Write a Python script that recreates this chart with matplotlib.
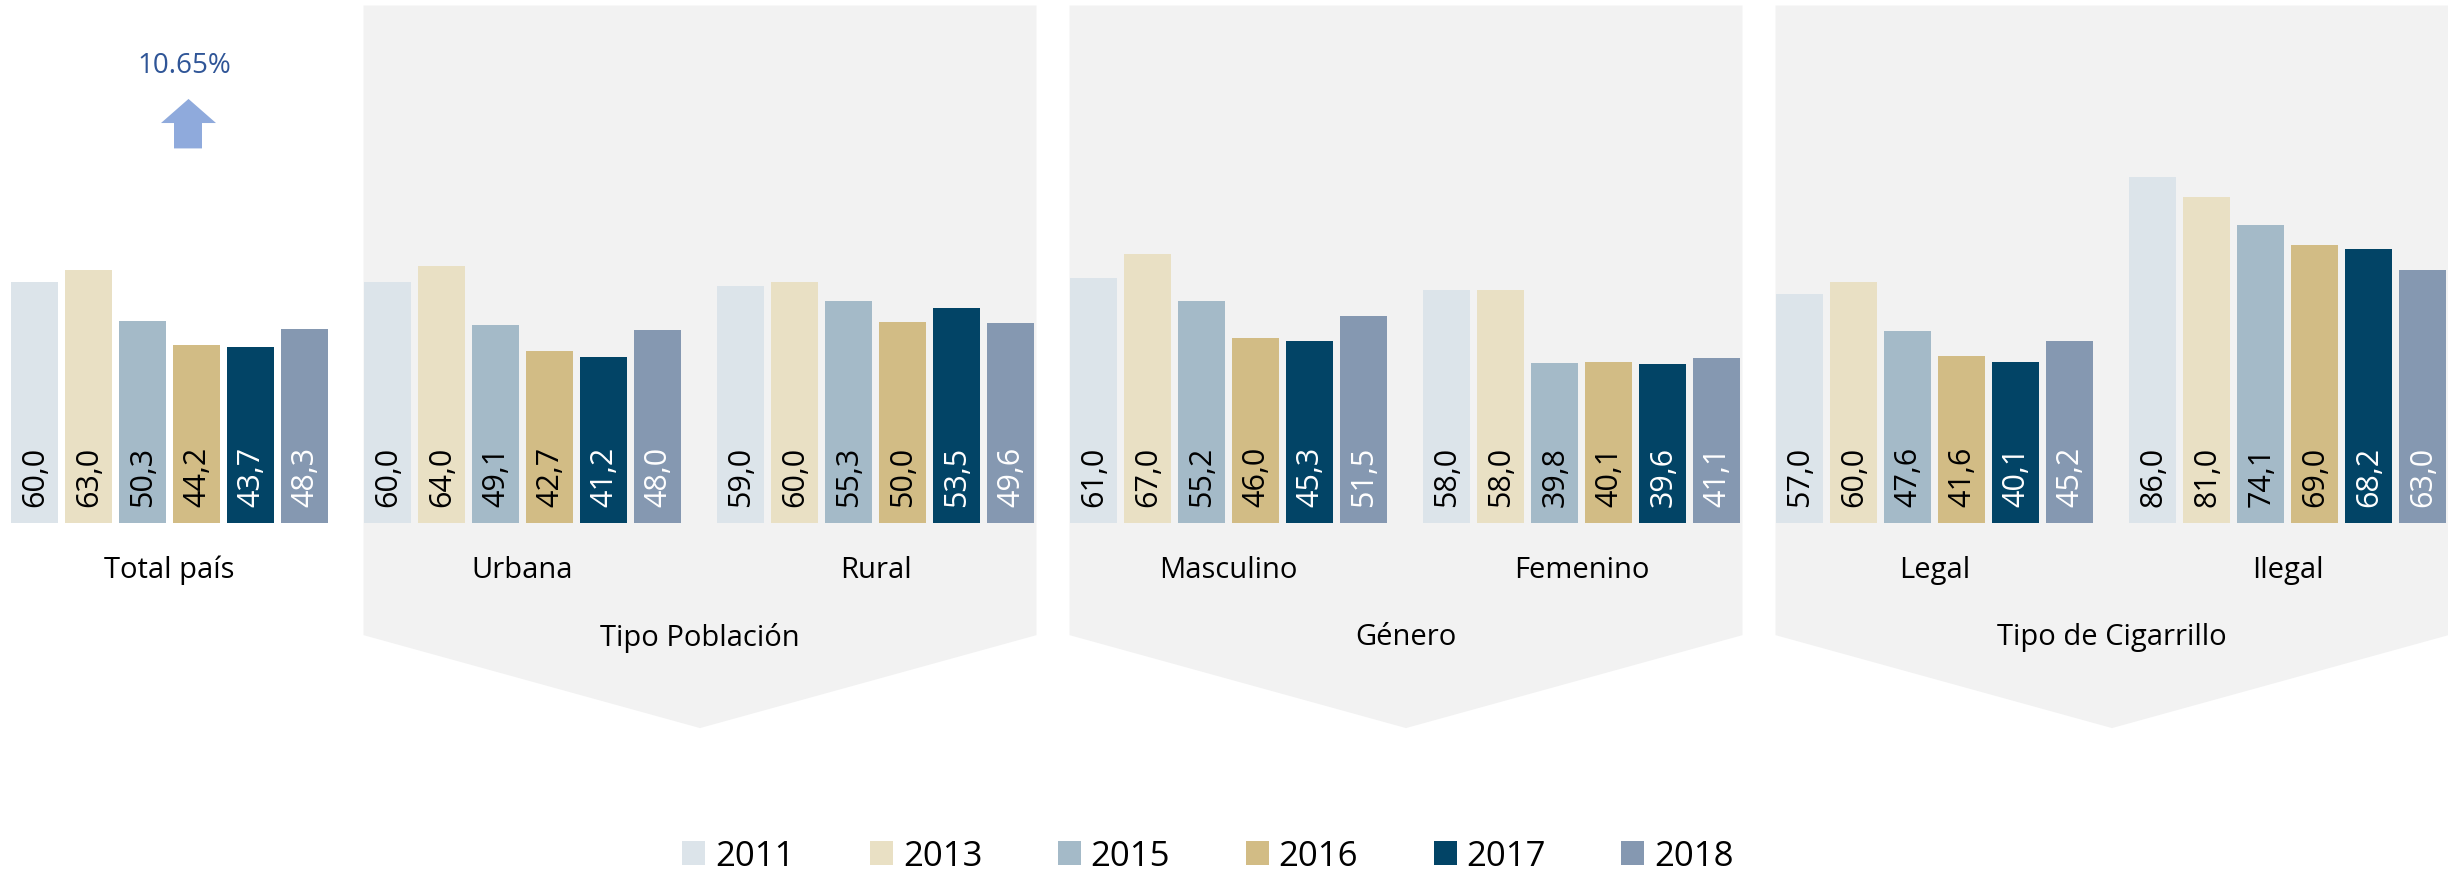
import matplotlib
matplotlib.use('Agg')
import matplotlib.pyplot as plt
from matplotlib.patches import Polygon, Patch
import numpy as np

# ---------------- data ----------------
years = ['2011', '2013', '2015', '2016', '2017', '2018']
categories = ['Total país', 'Urbana', 'Rural', 'Masculino', 'Femenino', 'Legal', 'Ilegal']
total_pais = [60.0, 63.0, 50.3, 44.2, 43.7, 48.3]
urbana = [60.0, 64.0, 49.1, 42.7, 41.2, 48.0]
rural = [59.0, 60.0, 55.3, 50.0, 53.5, 49.6]
masculino = [61.0, 67.0, 55.2, 46.0, 45.3, 51.5]
femenino = [58.0, 58.0, 39.8, 40.1, 39.6, 41.1]
legal = [57.0, 60.0, 47.6, 41.6, 40.1, 45.2]
ilegal = [86.0, 81.0, 74.1, 69.0, 68.2, 63.0]
group_titles = ['Tipo Población', 'Género', 'Tipo de Cigarrillo']
change_text = '10.65%'

# ---------------- style ----------------
colors = ['#DCE4EA', '#E9E0C4', '#A4BAC8', '#D2BC85', '#024466', '#8598B1']
label_colors = ['black', 'black', 'black', 'black', 'white', 'white']
panel_color = '#F2F2F2'

plt.rcParams['font.family'] = ['Open Sans', 'DejaVu Sans']

W, H = 2448, 876
BASE = 523.5      # baseline, pixels from top
PPU = 4.02        # pixels per unit
fig = plt.figure(figsize=(W / 100, 8.755), dpi=100)
ax = fig.add_axes([0, 0, 1, 1])
ax.set_xlim(0, W)
ax.set_ylim(-(H - BASE) / PPU, BASE / PPU)
ax.axis('off')


def py(ypx):
    return (BASE - ypx) / PPU


data = np.array([total_pais, urbana, rural, masculino, femenino, legal, ilegal])
n_groups, n_years = data.shape
GROUP_PITCH = 353
BAR_PITCH = 54
BAR_W = 47
FIRST = 11

# gray chevron panels
for k in range(3):
    left = FIRST + GROUP_PITCH * (1 + 2 * k) - 0.5
    right = left + GROUP_PITCH + 5 * BAR_PITCH + BAR_W + 3
    mid = (left + right) / 2
    pts = [(left, py(6)), (right, py(6)), (right, py(636)), (mid, py(729)), (left, py(636))]
    ax.add_patch(Polygon(pts, closed=True, facecolor=panel_color, edgecolor='none', zorder=0))
    ax.text(mid, py(638), group_titles[k], ha='center', va='center', fontsize=21, color='black')

group_left = FIRST + GROUP_PITCH * np.arange(n_groups)
for i in range(n_years):
    xs = group_left + BAR_W / 2 + BAR_PITCH * i
    ax.bar(xs, data[:, i], width=BAR_W, color=colors[i], edgecolor='none', zorder=2)
    for x, v in zip(xs, data[:, i]):
        ax.text(x + 1, 4.0, f'{v:.1f}'.replace('.', ','), rotation=90, ha='center', va='bottom',
                fontsize=22, color=label_colors[i], zorder=3)

for g, name in enumerate(categories):
    cx = group_left[g] + (5 * BAR_PITCH + BAR_W) / 2
    ax.text(cx, py(571), name, ha='center', va='center', fontsize=21, color='black', zorder=3)

# arrow + change text
arrow = [(174, py(149)), (174, py(123.6)), (161, py(123.6)), (188.5, py(99.5)),
         (216, py(123.6)), (202, py(123.6)), (202, py(149))]
ax.add_patch(Polygon(arrow, closed=True, facecolor='#8FAADC', edgecolor='none', zorder=3))
ax.text(184, py(66), change_text, ha='center', va='center', fontsize=20, color='#2F5597')

handles = [Patch(facecolor=c, edgecolor='none') for c in colors]
fig.legend(handles, years, loc='center', bbox_to_anchor=(1208 / W, 1 - 857 / H), ncol=6,
           frameon=False, fontsize=25, handlelength=0.66, handleheight=0.66,
           handletextpad=0.28, columnspacing=2.18, borderpad=0, borderaxespad=0)

fig.savefig('out.png', dpi=100)
